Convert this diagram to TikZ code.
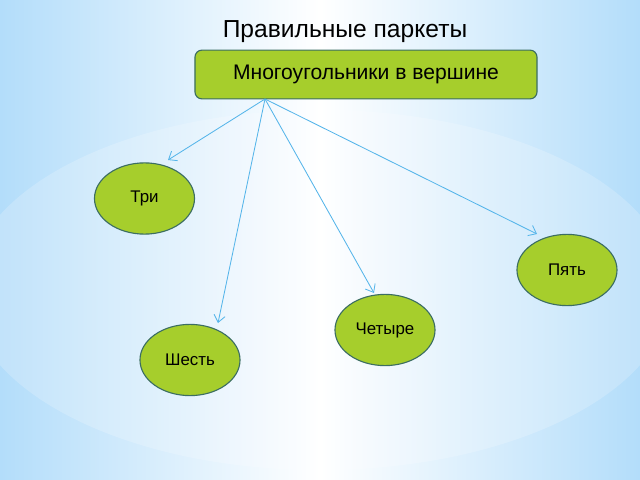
\documentclass[tikz,border=0pt]{standalone}
\usepackage{fontspec}
\setmainfont{Liberation Sans}
\usetikzlibrary{shapes.geometric,arrows.meta}
\definecolor{bgblue}{HTML}{B3DDFA}
\definecolor{glowblue}{HTML}{BFE2FA}
\definecolor{leaf}{HTML}{A6CE2C}
\definecolor{rim}{HTML}{3C6E62}
\definecolor{arrowblue}{HTML}{55B5EA}
\tikzset{
  oval/.style={ellipse, draw=rim, line width=0.8pt, fill=leaf, minimum width=2.5cm, minimum height=1.78cm, inner sep=0pt, font=\fontsize{12}{14}\selectfont},
  topbox/.style={rectangle, rounded corners=5pt, draw=rim, line width=0.8pt, fill=leaf, minimum width=8.55cm, minimum height=1.22cm, font=\fontsize{15}{18}\selectfont},
  link/.style={draw=arrowblue, line width=0.6pt, -{Straight Barb[length=5pt,width=8pt]}}
}
\begin{document}
\begin{tikzpicture}[x=0.025cm,y=-0.025cm]
\useasboundingbox (0,0) rectangle (640,480);
\shade[left color=bgblue, right color=bgblue, middle color=white] (0,0) rectangle (640,480);
\begin{scope}
\clip (0,0) rectangle (640,480);
\shade[left color=glowblue, right color=glowblue, middle color=white, opacity=0.85] (320,290) ellipse (352 and 180);
\end{scope}
\node[font=\fontsize{17.5}{20}\selectfont] (title) at (345,32) {Правильные паркеты};
\node[topbox] (top) at (366,74.5) {Многоугольники в вершине};
\coordinate (hub) at (265,99);
\node[oval] (tri) at (144.5,198.5) {Три};
\node[oval] (pyat) at (567,270) {Пять};
\node[oval] (chetyre) at (385,330) {Четыре};
\node[oval] (shest) at (190,360) {Шесть};
\draw[link] (hub) -- ([shift={(23.5,-38.5)}]tri.center);
\draw[link] (hub) -- ([shift={(28,-37)}]shest.center);
\draw[link] (hub) -- ([shift={(-11,-37)}]chetyre.center);
\draw[link] (hub) -- ([shift={(-30,-36)}]pyat.center);
\end{tikzpicture}
\end{document}
